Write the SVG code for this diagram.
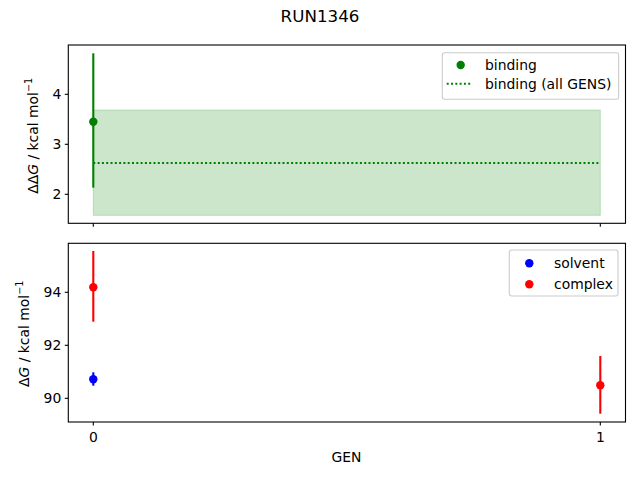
<svg xmlns="http://www.w3.org/2000/svg" width="640" height="480" viewBox="0 0 640 480">
<style>
text { font-family: "DejaVu Sans", sans-serif; font-size: 13.9px; fill: #000; }
.tl { text-anchor: end; }
.tc { text-anchor: middle; }
.spine { fill: none; stroke: #000; stroke-width: 1.1; }
.tick { stroke: #000; stroke-width: 1.1; }
.legend { fill: #fff; fill-opacity: 0.8; stroke: #cccccc; stroke-width: 1.1; }
.eb { stroke-width: 2.1; }
</style>
<rect width="640" height="480" fill="#fff"/>
<text class="tc" x="320" y="22" style="font-size:16.7px">RUN1346</text>

<g id="top-axes">
  <rect x="93.3" y="110" width="507" height="105.3" fill="#008000" fill-opacity="0.2" stroke="#008000" stroke-opacity="0.2" stroke-width="1"/>
  <line x1="93.3" y1="163" x2="600.3" y2="163" stroke="#008000" stroke-width="2.1" stroke-dasharray="2 2.3"/>
  <line class="eb" x1="93.3" y1="53.3" x2="93.3" y2="187.7" stroke="#008000"/>
  <circle cx="93.3" cy="121.7" r="4.2" fill="#008000"/>
  <rect class="spine" x="68.3" y="45" width="557.2" height="178.3"/>
  <g class="tick">
    <line x1="68.3" y1="94.3" x2="64.8" y2="94.3"/>
    <line x1="68.3" y1="144.3" x2="64.8" y2="144.3"/>
    <line x1="68.3" y1="194.3" x2="64.8" y2="194.3"/>
    <line x1="93.3" y1="223.3" x2="93.3" y2="226.8"/>
    <line x1="600.3" y1="223.3" x2="600.3" y2="226.8"/>
  </g>
  <text class="tl" x="61.3" y="99.3">4</text>
  <text class="tl" x="61.3" y="149.3">3</text>
  <text class="tl" x="61.3" y="199.3">2</text>
  <text class="tc" transform="translate(37.5,135.8) rotate(-90)">ΔΔ<tspan font-style="italic">G</tspan> / kcal mol<tspan dy="-5.5" style="font-size:9.7px">−1</tspan></text>
  <g id="top-legend">
    <rect class="legend" x="442.3" y="52.7" width="176.4" height="46.6" rx="2.5"/>
    <circle cx="460.7" cy="65" r="4.2" fill="#008000"/>
    <text x="485" y="70">binding</text>
    <line x1="446.7" y1="83.7" x2="472" y2="83.7" stroke="#008000" stroke-width="2.1" stroke-dasharray="2 2.3"/>
    <text x="485" y="88.7">binding (all GENS)</text>
  </g>
</g>

<g id="bottom-axes">
  <line class="eb" x1="93.3" y1="251" x2="93.3" y2="321.7" stroke="#ff0000"/>
  <circle cx="93.3" cy="287.3" r="4.2" fill="#ff0000"/>
  <line class="eb" x1="93.3" y1="372.3" x2="93.3" y2="385.7" stroke="#0000ff"/>
  <circle cx="93.3" cy="379.3" r="4.2" fill="#0000ff"/>
  <line class="eb" x1="600.3" y1="356" x2="600.3" y2="413.7" stroke="#ff0000"/>
  <circle cx="600.3" cy="385.3" r="4.2" fill="#ff0000"/>
  <rect class="spine" x="68.3" y="243.3" width="557.2" height="178.7"/>
  <g class="tick">
    <line x1="68.3" y1="292.3" x2="64.8" y2="292.3"/>
    <line x1="68.3" y1="345.3" x2="64.8" y2="345.3"/>
    <line x1="68.3" y1="398.3" x2="64.8" y2="398.3"/>
    <line x1="93.3" y1="422" x2="93.3" y2="425.5"/>
    <line x1="600.3" y1="422" x2="600.3" y2="425.5"/>
  </g>
  <text class="tl" x="61.3" y="297.3">94</text>
  <text class="tl" x="61.3" y="350.3">92</text>
  <text class="tl" x="61.3" y="403.3">90</text>
  <text class="tc" x="93.3" y="441.7">0</text>
  <text class="tc" x="600.3" y="441.7">1</text>
  <text class="tc" transform="translate(28.5,333.8) rotate(-90)">Δ<tspan font-style="italic">G</tspan> / kcal mol<tspan dy="-5.5" style="font-size:9.7px">−1</tspan></text>
  <text class="tc" x="346.5" y="461.7">GEN</text>
  <g id="bottom-legend">
    <rect class="legend" x="509.3" y="250" width="108.7" height="46" rx="2.5"/>
    <circle cx="529.3" cy="263.3" r="4.2" fill="#0000ff"/>
    <text x="554" y="268.3">solvent</text>
    <circle cx="529.3" cy="284.3" r="4.2" fill="#ff0000"/>
    <text x="554" y="289.3">complex</text>
  </g>
</g>
</svg>
